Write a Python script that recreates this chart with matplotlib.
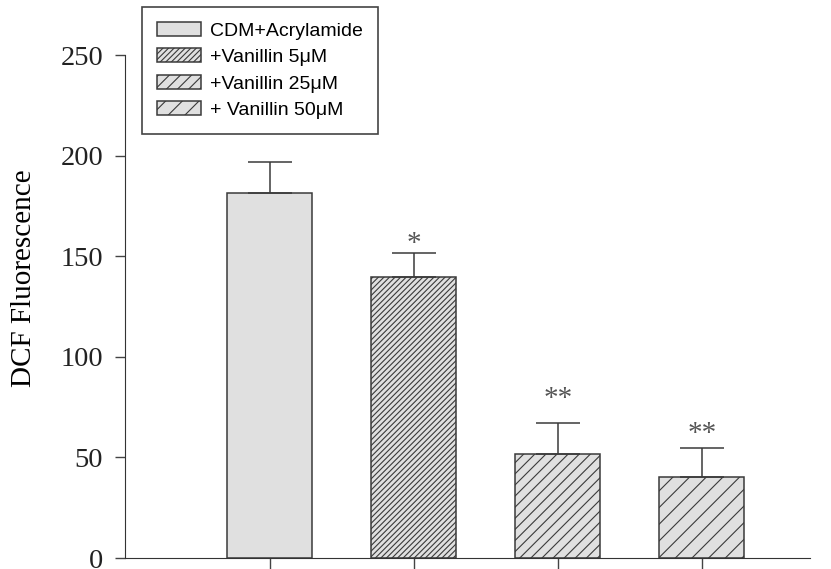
import matplotlib.pyplot as plt

# data
labels = ['CDM+Acrylamide', '+Vanillin 5\u03bcM', '+Vanillin 25\u03bcM', '+ Vanillin 50\u03bcM']
means = [181.6, 139.8, 51.7, 40.4]
errors = [15.0, 12.0, 15.5, 14.4]
marks = ['', '*', '**', '**']
mark_y = [0, 156, 79, 61.6]
hatches = ['', '//////', '///', '//']

serif = ['Liberation Serif', 'DejaVu Serif']
sans = ['Liberation Sans', 'DejaVu Sans']

plt.rcParams['hatch.linewidth'] = 0.8
plt.rcParams['hatch.color'] = '#444444'

fig = plt.figure(figsize=(8.31, 5.69), dpi=100)
ax = fig.add_axes([0.151, 0.0193, 0.8236, 0.884])

xs = [1, 2, 3, 4]
for x, m, e, h, lab in zip(xs, means, errors, hatches, labels):
    ax.bar(x, m, width=0.59, color='#e0e0e0', edgecolor='#3a3a3a',
           linewidth=1.1, hatch=h, label=lab, zorder=2)
    ax.errorbar(x, m, yerr=[[0], [e]], fmt='none', ecolor='#3a3a3a',
                elinewidth=1.1, capsize=15.5, capthick=1.1, zorder=3)

# significance stars
for x, y, s in zip(xs, mark_y, marks):
    if s:
        ax.text(x, y, s, ha='center', va='center', fontsize=21,
                family=serif, color='#555555')

ax.set_xlim(0, 4.75)
ax.set_ylim(0, 250)
ax.set_xticks(xs)
ax.set_xticklabels([])
ax.set_yticks([0, 50, 100, 150, 200, 250])
ax.tick_params(axis='y', direction='out', length=7, width=1, color='#444444',
               labelsize=20.5, labelcolor='#222222', pad=9)
ax.tick_params(axis='x', direction='out', length=8, width=1, color='#444444')
for lbl in ax.get_yticklabels():
    lbl.set_family(serif)
ax.spines['top'].set_visible(False)
ax.spines['right'].set_visible(False)
ax.spines['left'].set_color('#333333')
ax.spines['bottom'].set_color('#333333')
ax.set_ylabel('DCF Fluorescence', fontsize=21, family=serif)
ax.yaxis.set_label_coords(-0.129, 0.557)

leg = fig.legend(loc='upper left', bbox_to_anchor=(141.7 / 831, 1 - 6.7 / 569),
                 borderaxespad=0, fancybox=False, framealpha=1,
                 edgecolor='#444444', prop={'family': sans, 'size': 14},
                 handlelength=2.25, handleheight=0.72, handletextpad=0.5,
                 labelspacing=0.45, borderpad=0.78)
leg.get_frame().set_linewidth(1.2)

fig.savefig('out.png', dpi=100)
